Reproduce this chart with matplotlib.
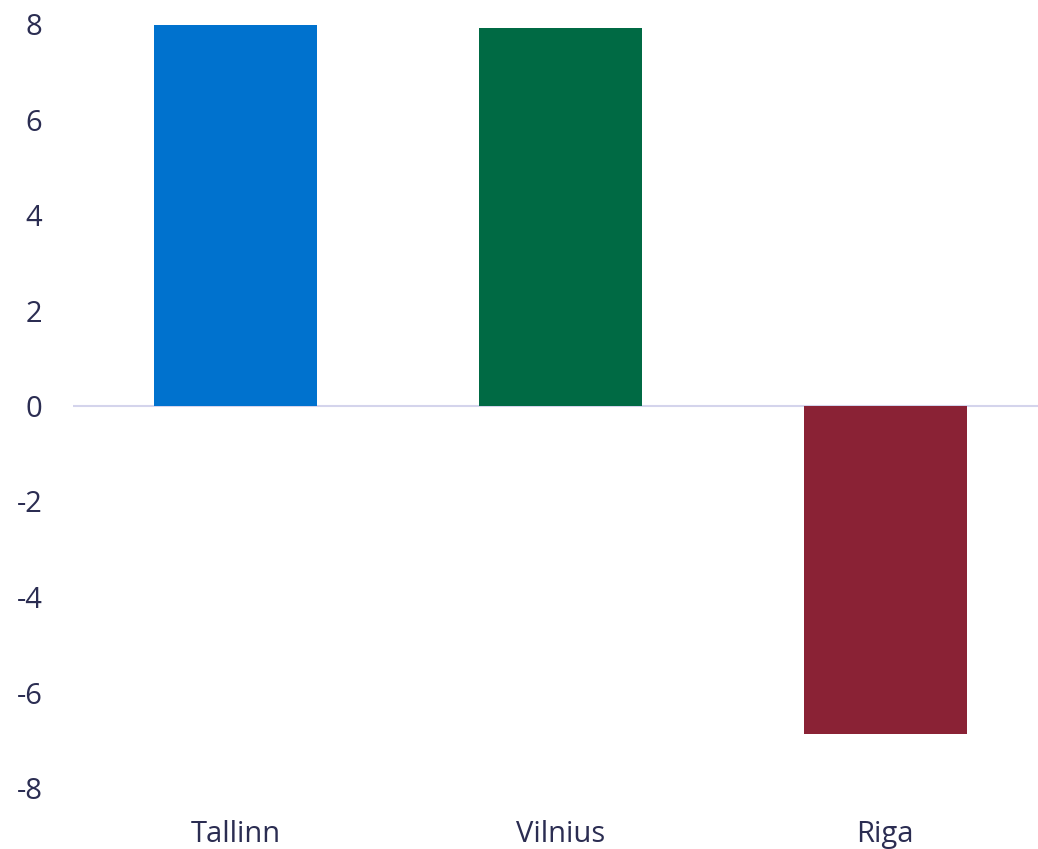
import matplotlib.pyplot as plt

cities = ["Tallinn", "Vilnius", "Riga"]
values = [7.97, 7.91, -6.87]
bar_colors = ["#0072ce", "#006a44", "#8a2235"]
yticks = [-8, -6, -4, -2, 0, 2, 4, 6, 8]

text_color = "#2b2d52"
plt.rcParams['font.family'] = ['Open Sans', 'DejaVu Sans']

fig = plt.figure(figsize=(10.38, 8.49), dpi=100)
ax = fig.add_axes([73 / 1038, (849 - 788) / 849, 1 - 73 / 1038, (788 - 24) / 849])

x = range(len(cities))
ax.bar(x, values, width=0.5, color=bar_colors, zorder=2)
ax.axhline(0, color="#d4d4ec", linewidth=1.5, zorder=1)

ax.set_xlim(-0.5, 2.47)
ax.set_ylim(-8, 8)
ax.set_xticks(list(x))
ax.set_xticklabels(cities)
ax.set_yticks(yticks)
ax.set_yticklabels([str(t) for t in yticks])

ax.tick_params(axis="both", length=0, labelsize=21, colors=text_color)
ax.tick_params(axis="y", pad=22)
ax.tick_params(axis="x", pad=23)
for s in ax.spines.values():
    s.set_visible(False)

fig.savefig("out.png", dpi=100, facecolor="white")
